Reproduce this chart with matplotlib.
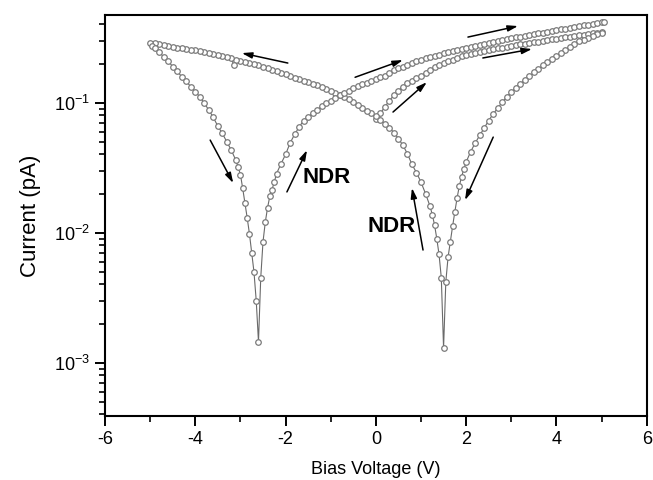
import matplotlib
matplotlib.use("Agg")
import matplotlib.pyplot as plt
from matplotlib.ticker import LogLocator, FixedLocator, FuncFormatter, NullFormatter
import numpy as np

plt.rcParams['font.family'] = ['Liberation Sans', 'DejaVu Sans']
plt.rcParams['axes.unicode_minus'] = False

# Sweep 1: 0 V -> +5 V (lower line of the upper-right band)
v_up0 = [0.0, 0.1, 0.2, 0.3, 0.4, 0.5, 0.6, 0.7, 0.8, 0.9,
         1.0, 1.1, 1.2, 1.3, 1.4, 1.5, 1.6, 1.7, 1.8, 1.9,
         2.0, 2.1, 2.2, 2.3, 2.4, 2.5, 2.6, 2.7, 2.8, 2.9,
         3.0, 3.1, 3.2, 3.3, 3.4, 3.5, 3.6, 3.7, 3.8, 3.9,
         4.0, 4.1, 4.2, 4.3, 4.4, 4.5, 4.6, 4.7, 4.8, 4.9, 5.0]
i_up0 = [0.075, 0.083, 0.093, 0.104, 0.114, 0.124, 0.133, 0.141, 0.148, 0.155,
         0.162, 0.170, 0.178, 0.187, 0.195, 0.202, 0.209, 0.215, 0.221, 0.227,
         0.232, 0.237, 0.242, 0.246, 0.250, 0.254, 0.258, 0.262, 0.266, 0.270,
         0.274, 0.278, 0.281, 0.285, 0.288, 0.292, 0.295, 0.299, 0.303, 0.307,
         0.311, 0.315, 0.318, 0.322, 0.326, 0.330, 0.333, 0.337, 0.341, 0.345, 0.350]

# Sweep 2a: +5 V -> dip at +1.5 V
v_down_r = [5.0, 4.9, 4.8, 4.7, 4.6, 4.5, 4.4, 4.3, 4.2, 4.1, 4.0, 3.9, 3.8, 3.7, 3.6,
            3.5, 3.4, 3.3, 3.2, 3.1, 3.0, 2.9, 2.8, 2.7, 2.6, 2.5, 2.4, 2.3, 2.2, 2.1,
            2.0, 1.95, 1.9, 1.85, 1.8, 1.75, 1.7, 1.65, 1.6, 1.55, 1.5]
i_down_r = [0.345, 0.335, 0.325, 0.315, 0.305, 0.296, 0.284, 0.270, 0.256, 0.242, 0.229,
            0.216, 0.204, 0.194, 0.182, 0.171, 0.160, 0.150, 0.140, 0.130, 0.121, 0.111,
            0.101, 0.091, 0.082, 0.073, 0.064, 0.056, 0.049, 0.042, 0.035, 0.031, 0.027,
            0.023, 0.0185, 0.0145, 0.0112, 0.0085, 0.0065, 0.0042, 0.0013]

# Sweep 2b: dip at +1.5 V -> -5 V
v_down_l = [1.45, 1.4, 1.35, 1.3, 1.25, 1.2, 1.1, 1.0, 0.9, 0.8, 0.7, 0.6, 0.5, 0.4,
            0.3, 0.2, 0.1, 0.0, -0.1, -0.2, -0.3, -0.4, -0.5, -0.6, -0.7, -0.8, -0.9,
            -1.0, -1.1, -1.2, -1.3, -1.4, -1.5, -1.6, -1.7, -1.8, -1.9, -2.0, -2.1,
            -2.2, -2.3, -2.4, -2.5, -2.6, -2.7, -2.8, -2.9, -3.0, -3.1, -3.15, -3.2,
            -3.3, -3.4, -3.5, -3.6, -3.7, -3.8, -3.9, -4.0, -4.1, -4.2, -4.3, -4.4,
            -4.5, -4.6, -4.7, -4.8, -4.9, -5.0]
i_down_l = [0.0045, 0.0068, 0.0090, 0.0115, 0.0138, 0.0160, 0.0200, 0.0245, 0.0290,
            0.0335, 0.0405, 0.0470, 0.0530, 0.0590, 0.0640, 0.0690, 0.0740, 0.0785,
            0.0830, 0.0870, 0.0915, 0.0960, 0.1010, 0.1060, 0.1105, 0.1150, 0.1195,
            0.1240, 0.1280, 0.1320, 0.1360, 0.1400, 0.1435, 0.1470, 0.1515, 0.1560,
            0.1605, 0.1650, 0.1700, 0.1750, 0.1800, 0.1850, 0.1895, 0.1940, 0.1980,
            0.2020, 0.2060, 0.2100, 0.2145, 0.1950, 0.2190, 0.2240, 0.2290, 0.2335,
            0.2380, 0.2420, 0.2460, 0.2495, 0.2530, 0.2565, 0.2600, 0.2630, 0.2660,
            0.2700, 0.2740, 0.2780, 0.2820, 0.2860, 0.2900]

# Sweep 3a: -5 V -> dip at -2.6 V
v_up_l = [-4.95, -4.9, -4.8, -4.7, -4.6, -4.5, -4.4, -4.3, -4.2, -4.1, -4.0, -3.9, -3.8,
          -3.7, -3.6, -3.5, -3.4, -3.3, -3.2, -3.1, -3.05, -3.0, -2.95, -2.9, -2.85,
          -2.8, -2.75, -2.7, -2.65, -2.6]
i_up_l = [0.272, 0.262, 0.244, 0.226, 0.208, 0.190, 0.174, 0.159, 0.146, 0.133, 0.122,
          0.111, 0.099, 0.088, 0.077, 0.066, 0.058, 0.050, 0.043, 0.036, 0.032, 0.028,
          0.022, 0.017, 0.013, 0.0098, 0.0070, 0.0050, 0.0030, 0.00145]

# Sweep 3b: dip at -2.6 V -> +5 V (upper line of the upper-right band)
v_up_r = [-2.55, -2.5, -2.45, -2.4, -2.35, -2.3, -2.25, -2.2, -2.1, -2.0, -1.9, -1.8,
          -1.7, -1.6, -1.5, -1.4, -1.3, -1.2, -1.1, -1.0, -0.9, -0.8, -0.7, -0.6,
          -0.5, -0.4, -0.3, -0.2, -0.1, 0.0, 0.1, 0.2, 0.3, 0.4, 0.5, 0.6, 0.7, 0.8,
          0.9, 1.0, 1.1, 1.2, 1.3, 1.4, 1.5, 1.6, 1.7, 1.8, 1.9, 2.0, 2.1, 2.2, 2.3,
          2.4, 2.5, 2.6, 2.7, 2.8, 2.9, 3.0, 3.1, 3.2, 3.3, 3.4, 3.5, 3.6, 3.7, 3.8,
          3.9, 4.0, 4.1, 4.2, 4.3, 4.4, 4.5, 4.6, 4.7, 4.8, 4.9, 5.0, 5.05]
i_up_r = [0.0045, 0.0085, 0.0120, 0.0155, 0.0190, 0.0215, 0.0245, 0.0285, 0.0340, 0.0400,
          0.0490, 0.0570, 0.0650, 0.0730, 0.0780, 0.0830, 0.0880, 0.0940, 0.0990, 0.1040,
          0.1095, 0.1150, 0.1195, 0.1240, 0.1290, 0.1340, 0.1385, 0.1430, 0.1475, 0.1520,
          0.1570, 0.1620, 0.1700, 0.1780, 0.1840, 0.1900, 0.1960, 0.2020, 0.2085, 0.2150,
          0.2200, 0.2250, 0.2300, 0.2350, 0.2400, 0.2450, 0.2495, 0.2540, 0.2590, 0.2640,
          0.2690, 0.2740, 0.2785, 0.2830, 0.2880, 0.2930, 0.2980, 0.3030, 0.3080, 0.3130,
          0.3180, 0.3230, 0.3280, 0.3330, 0.3375, 0.3420, 0.3470, 0.3520, 0.3570, 0.3620,
          0.3670, 0.3720, 0.3775, 0.3830, 0.3885, 0.3940, 0.3995, 0.4050, 0.4100, 0.4150,
          0.4180]

x_ticks = [-6, -4, -2, 0, 2, 4, 6]

volt = v_up0 + v_down_r + v_down_l + v_up_l + v_up_r
curr = i_up0 + i_down_r + i_down_l + i_up_l + i_up_r

fig = plt.figure(figsize=(6.53, 4.8), dpi=100)
ax = fig.add_axes([105/653, 1-416/480, (646.7-105)/653, (416-15)/480])

ax.plot(volt, curr, color='#6a6a6a', lw=0.8, marker='o', ms=4.0,
        mfc='white', mec='#7a7a7a', mew=0.9, zorder=3)

ax.set_yscale('log')
ax.set_xlim(-6, 6)
ax.set_ylim(10**-3.41, 10**-0.325)

ax.xaxis.set_major_locator(FixedLocator(x_ticks))
ax.xaxis.set_minor_locator(FixedLocator([-5, -3, -1, 1, 3, 5]))
ax.yaxis.set_major_locator(LogLocator(base=10, numticks=10))
ax.yaxis.set_minor_locator(LogLocator(base=10, subs=np.arange(2, 10), numticks=20))
ax.yaxis.set_minor_formatter(NullFormatter())
ax.yaxis.set_major_formatter(FuncFormatter(
    lambda v, p: r'$\mathregular{10^{%d}}$' % int(round(np.log10(v)))))

for s in ax.spines.values():
    s.set_linewidth(1.5)
ax.tick_params(which='major', direction='out', length=7, width=1.4, labelsize=13,
               top=False, right=False, pad=4)
ax.tick_params(which='minor', direction='out', length=4, width=1.2, top=False, right=False)

ax.set_xlabel('Bias Voltage (V)', fontsize=13, labelpad=9)
ax.set_ylabel('Current (pA)', fontsize=16, labelpad=9)

arrow_kw = dict(arrowstyle='-|>,head_length=0.6,head_width=0.18', color='black', lw=1.1,
                shrinkA=0, shrinkB=0)
arrows = [((-1.95, 0.202), (-2.97, 0.241)),
          ((-3.67, 0.0516), (-3.16, 0.0241)),
          ((-1.97, 0.0206), (-1.525, 0.0432)),
          ((-0.46, 0.157), (0.60, 0.213)),
          ((0.38, 0.0848), (1.13, 0.144)),
          ((2.04, 0.320), (3.15, 0.389)),
          ((2.37, 0.221), (3.46, 0.259)),
          ((2.60, 0.0544), (1.975, 0.0178)),
          ((1.045, 0.00736), (0.80, 0.0221))]
for start, end in arrows:
    ax.annotate('', xy=end, xytext=start, arrowprops=arrow_kw, zorder=4)

ax.text(-1.10, 0.0264, 'NDR', fontsize=16, fontweight='bold', ha='center', va='center')
ax.text(0.34, 0.0112, 'NDR', fontsize=16, fontweight='bold', ha='center', va='center')

fig.savefig('out.png', dpi=100)
